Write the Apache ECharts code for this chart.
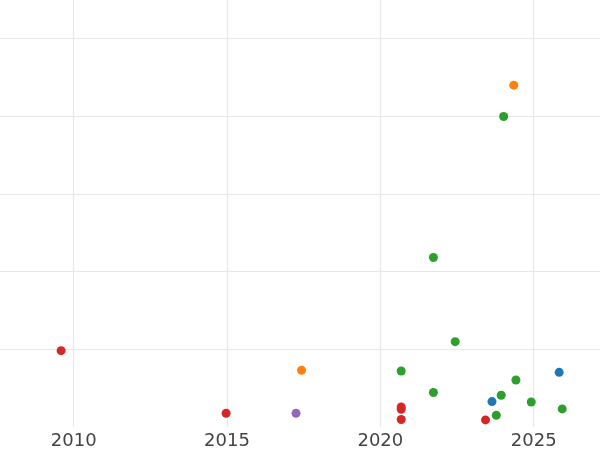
<!DOCTYPE html>
<html>
<head>
<meta charset="utf-8">
<script src="https://cdn.jsdelivr.net/npm/echarts@6/dist/echarts.min.js"></script>
<style>html,body{margin:0;padding:0;background:#fff}#c{width:600px;height:450px}</style>
</head>
<body>
<div id="c"></div>
<script>
// Points as [year, value]
const bluePts   = [[2023.64, 6.55], [2025.83, 14.08]];
const orangePts = [[2017.43, 14.6], [2024.35, 88.0]];
const greenPts  = [[2024.02, 79.94], [2021.73, 43.63], [2022.44, 21.97], [2020.68, 14.42],
                   [2021.73, 8.87], [2023.94, 8.17], [2024.42, 12.10], [2024.92, 6.45],
                   [2023.78, 3.03], [2025.93, 4.65]];
const redPts    = [[2009.59, 19.66], [2014.97, 3.55], [2020.68, 5.17], [2020.68, 4.57],
                   [2020.68, 1.93], [2023.43, 1.82]];
const purplePts = [[2017.25, 3.55]];

const xRange = [2007.597, 2027.162];
const yRange = [0, 109.93];

const chart = echarts.init(document.getElementById('c'), null, {renderer: 'canvas'});
const mk = (name, data, color) => ({
  name, type: 'scatter', data, symbol: 'circle', symbolSize: 9,
  itemStyle: {color, opacity: 1}, emphasis: {disabled: true}
});
chart.setOption({
  animation: false,
  backgroundColor: '#ffffff',
  grid: {left: 0, right: 0, top: 0, bottom: 22.2, containLabel: false},
  xAxis: {
    type: 'value', min: xRange[0], max: xRange[1], splitNumber: 4, minInterval: 5, maxInterval: 5,
    axisLine: {show: false}, axisTick: {show: false},
    splitLine: {show: true, showMinLine: false, showMaxLine: false, lineStyle: {color: '#e8e8e8', width: 1.2}},
    axisLabel: {color: '#444444', fontFamily: 'DejaVu Sans', fontSize: 18, margin: 5,
      showMinLabel: false, showMaxLabel: false,
      formatter: v => (v % 5 === 0 ? String(v) : '')}
  },
  yAxis: {
    type: 'value', min: yRange[0], max: yRange[1], interval: 20,
    axisLine: {show: false}, axisTick: {show: false}, axisLabel: {show: false},
    splitLine: {show: true, showMinLine: false, showMaxLine: false, lineStyle: {color: '#e8e8e8', width: 1.2}}
  },
  series: [
    mk('blue', bluePts, '#1f77b4'),
    mk('orange', orangePts, '#ff7f0e'),
    mk('green', greenPts, '#2ca02c'),
    mk('red', redPts, '#d62728'),
    mk('purple', purplePts, '#9467bd')
  ]
});
</script>
</body>
</html>
